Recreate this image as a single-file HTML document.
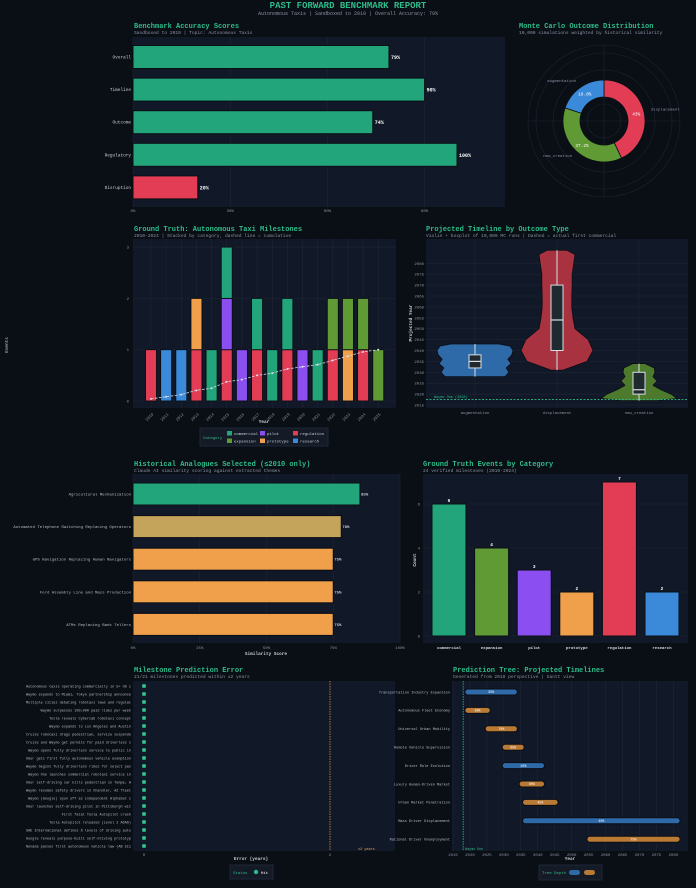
<!DOCTYPE html>
<html><head><meta charset="utf-8"><style>
html,body{margin:0;padding:0;background:#0a0e15;}
svg{display:block;font-family:"Liberation Mono",monospace;}
.t{fill:#2dbd8a;font-weight:bold;font-size:7px;}
.s{fill:#8a93a3;font-size:4.6px;}
.lab{fill:#c9ced6;font-size:4.4px;}
.tk{fill:#8a93a3;font-size:4px;}
.grid{stroke:#1e2636;stroke-width:0.6;}
</style></head><body>
<svg id="root" width="696" height="888" viewBox="0 0 696 888">
<rect x="0" y="0" width="696" height="888" fill="#0a0e15"/>
<text x="348" y="8" text-anchor="middle" class="t" style="font-size:9px">PAST FORWARD BENCHMARK REPORT</text>
<text x="348" y="15" text-anchor="middle" class="s" style="font-size:5px">Autonomous Taxis | Sandboxed to 2010 | Overall Accuracy: 79%</text>

<text x="134" y="28" class="t">Benchmark Accuracy Scores</text>
<text x="134" y="34" class="s">Sandboxed to 2010 | Topic: Autonomous Taxis</text>
<g id="g1"></g>

<text x="519" y="28" class="t">Monte Carlo Outcome Distribution</text>
<text x="519" y="34" class="s">10,000 simulations weighted by historical similarity</text>
<g id="g2"></g>

<text x="134" y="231" class="t">Ground Truth: Autonomous Taxi Milestones</text>
<text x="134" y="237" class="s">2010-2024 | Stacked by category, dashed line = cumulative</text>
<text x="8" y="345" class="lab" transform="rotate(-90 8 345)" text-anchor="middle">Events</text>
<g id="g3"></g>

<text x="426" y="231" class="t">Projected Timeline by Outcome Type</text>
<text x="426" y="237" class="s">Violin + boxplot of 10,000 MC runs | Dashed = actual first commercial</text>
<g id="g4"></g>

<text x="134" y="466" class="t">Historical Analogues Selected (≤2010 only)</text>
<text x="134" y="472" class="s">Claude AI similarity scoring against extracted themes</text>
<g id="g5"></g>

<text x="423" y="466" class="t">Ground Truth Events by Category</text>
<text x="423" y="472" class="s">24 verified milestones (2010-2024)</text>
<g id="g6"></g>

<text x="134" y="672" class="t">Milestone Prediction Error</text>
<text x="134" y="678" class="s">21/21 milestones predicted within ±2 years</text>
<g id="g7"></g>

<text x="453" y="672" class="t">Prediction Tree: Projected Timelines</text>
<text x="453" y="678" class="s">Generated from 2010 perspective | Gantt view</text>
<g id="g8"></g>
</svg>
<script>
const NS='http://www.w3.org/2000/svg';
function mk(tag,a,p){const e=document.createElementNS(NS,tag);for(const k in a)e.setAttribute(k,a[k]);p.appendChild(e);return e;}
function tx(s,a,p){const e=mk('text',a,p);e.textContent=s;return e;}
const C={commercial:'#22a57a',expansion:'#5f9a35',pilot:'#8b4ef0',prototype:'#f0a04b',regulation:'#e23d55',research:'#3b8ad9'};

// ---- 1 accuracy
const accCats=['Overall','Timeline','Outcome','Regulatory','Disruption'];
const accVals=[79,90,74,100,20];
const accTicks=[0,30,60,90];
{const g=document.getElementById('g1');const x0=133,x1=505,y0=37,y1=207,sx=v=>x0+v*3.24;
const bg=mk('rect',{x:x0,y:y0,width:x1-x0,height:y1-y0,fill:'#111827'},g);

accTicks.forEach(t=>{const l=mk('line',{x1:sx(t),x2:sx(t),y1:y0,y2:y1,class:'grid'},g);
const k=tx(t+'%',{x:sx(t),y:y1+5,class:'tk','text-anchor':'middle'},g);});
accCats.forEach((c,i)=>{const cy=57+i*32.6;
const r=mk('rect',{x:x0,y:cy-11.5,width:sx(accVals[i])-x0,height:23,fill:accVals[i]<50?'#e23d55':'#22a57a',stroke:'#0a0e15','stroke-width':1},g);

const l=tx(c,{x:x0-2,y:cy+1.5,class:'lab','text-anchor':'end'},g);
const v=tx(accVals[i]+'%',{x:sx(accVals[i])+2,y:cy+2,class:'lab',style:'font-weight:bold;fill:#fff;font-size:5px'},g);});}

// ---- 2 donut
const donutCats=['displacement','new_creation','augmentation'];
const donutVals=[43,37.2,19.8];
const donutCols=['#e23d55','#5f9a35','#3b8ad9'];
{const g=document.getElementById('g2');const cx=604,cy=121,R=41,r=24;
[17,34,51,68,76].forEach(rr=>{const c=mk('circle',{cx,cy,r:rr,fill:'none',stroke:'#1c2331','stroke-width':0.6},g);});
const hl=mk('line',{x1:cx-76,x2:cx+76,y1:cy,y2:cy,stroke:'#1c2331','stroke-width':0.6},g);
const vl=mk('line',{x1:cx,x2:cx,y1:cy-76,y2:cy+76,stroke:'#1c2331','stroke-width':0.6},g);
const tot=donutVals.reduce((a,b)=>a+b,0);let a0=0;
donutVals.forEach((v,i)=>{const a1=a0+v/tot*2*Math.PI;const P=(rad,a)=>[cx+rad*Math.sin(a),cy-rad*Math.cos(a)];const lg=a1-a0>Math.PI?1:0;
const [p1,p2,p3,p4]=[P(R,a0),P(R,a1),P(r,a1),P(r,a0)];
const p=mk('path',{d:`M${p1}A${R},${R} 0 ${lg} 1 ${p2}L${p3}A${r},${r} 0 ${lg} 0 ${p4}Z`,fill:donutCols[i],stroke:'#0a0e15','stroke-width':0.8},g);

const am=(a0+a1)/2;const q=P(33,am);const pct=tx((i==0?Math.round(v):v.toFixed(1))+'%',{x:q[0],y:q[1]+1.5,class:'lab','text-anchor':'middle',style:'fill:#fff'},g);
const o=P(48,am);const nl=tx(donutCats[i],{x:o[0],y:o[1],class:'tk','text-anchor':Math.sin(am)>0.3?'start':(Math.sin(am)<-0.3?'end':'middle')},g);
a0=a1;});}

// ---- 3 milestones
const years=[2010,2011,2012,2013,2014,2015,2016,2017,2018,2019,2020,2021,2022,2023,2024,2025];
const yearStacks=[['regulation'],['research'],['research'],['regulation','prototype'],['commercial'],['regulation','pilot','commercial'],['pilot'],['regulation','commercial'],['commercial'],['regulation','commercial'],['pilot'],['commercial'],['regulation','expansion'],['prototype','expansion'],['regulation','expansion'],['expansion']];
const evTicks=[0,1,2,3];
{const g=document.getElementById('g3');const x0=133,x1=396,y0=239,y1=408,sy=v=>401-v*51.3,sx=i=>151+i*15.15;
const bg=mk('rect',{x:x0,y:y0,width:x1-x0,height:y1-y0,fill:'#111827'},g);
evTicks.forEach(t=>{const l=mk('line',{x1:x0,x2:x1,y1:sy(t),y2:sy(t),class:'grid'},g);
const k=tx(t,{x:x0-4,y:sy(t)+1.5,class:'tk','text-anchor':'end'},g);});
const total=yearStacks.reduce((a,s)=>a+s.length,0);let cum=0;const pts=[];
years.forEach((yr,i)=>{const vl=mk('line',{x1:sx(i),x2:sx(i),y1:y0,y2:y1,class:'grid'},g);
yearStacks[i].forEach((c,j)=>{const r=mk('rect',{x:sx(i)-5.5,y:sy(j+1),width:11,height:51.3,fill:C[c],stroke:'#0a0e15','stroke-width':0.9},g);});
cum+=yearStacks[i].length;pts.push([sx(i),sy(cum/total)]);
const k=tx(yr,{x:sx(i),y:414,class:'tk','text-anchor':'end',transform:`rotate(-45 ${sx(i)+2} 411)`},g);});
const pl=mk('polyline',{points:pts.join(' '),fill:'none',stroke:'#d8dde6','stroke-width':0.8,'stroke-dasharray':'2.5,1.5'},g);
pts.forEach(p=>{const c=mk('circle',{cx:p[0],cy:p[1],r:1,fill:'#d8dde6'},g);});
const xt=tx('Year',{x:264,y:423,class:'lab','text-anchor':'middle',style:'font-weight:bold'},g);
const lb=mk('rect',{x:200,y:428,width:128,height:18,fill:'#141b27',stroke:'#1e2636'},g);
const lt=tx('Category',{x:203,y:439,class:'tk',style:'fill:#2dbd8a'},g);
const order=['commercial','pilot','regulation','expansion','prototype','research'];
order.forEach((c,i)=>{const lx=227+(i%3)*33,ly=431+Math.floor(i/3)*7.5;const s=mk('rect',{x:lx,y:ly,width:5,height:4.5,fill:C[c]},g);
const t=tx(c,{x:lx+7,y:ly+4,class:'tk',style:'fill:#c9ced6'},g);});}

// ---- 4 violin
const vCats=['augmentation','displacement','new_creation'];
const vCols=['#2f6aa8','#a8323f','#4d7a2c'];
const vYears=[[2028,2030,2032,2034,2036,2038,2040,2042,2043],[2031,2035,2040,2045,2050,2055,2060,2065,2070,2075,2080,2084,2086],[2017,2018,2020,2022,2024,2026,2028,2030,2032,2034]];
const vDens=[[0.75,0.85,0.78,0.9,0.82,0.92,0.95,0.88,0.6],[0.15,0.75,0.9,0.78,0.45,0.4,0.37,0.37,0.38,0.38,0.42,0.45,0.25],[0.45,0.95,0.8,0.55,0.35,0.45,0.35,0.4,0.38,0.15]];
const vBox=[[2032,2035,2038],[2040,2054,2070],[2020,2022,2030]];
const vWhisk=[[2028,2043],[2031,2086],[2017,2034]];
const vTicks=[2015,2020,2025,2030,2035,2040,2045,2050,2055,2060,2065,2070,2075,2080];
const actualFirst=2017.5;
{const g=document.getElementById('g4');const x0=426,x1=688,y0=239,y1=408,sy=v=>405-(v-2015)*2.18,cx=[475,557,639],W=40;
const bg=mk('rect',{x:x0,y:y0,width:x1-x0,height:y1-y0,fill:'#111827'},g);
vTicks.forEach(t=>{const l=mk('line',{x1:x0,x2:x1,y1:sy(t),y2:sy(t),class:'grid'},g);
const k=tx(t,{x:x0-2,y:sy(t)+1.5,class:'tk','text-anchor':'end'},g);});
cx.forEach(x=>{const l=mk('line',{x1:x,x2:x,y1:y0,y2:y1,class:'grid'},g);});
vCats.forEach((c,i)=>{const Y=vYears[i],D=vDens[i];let d='M'+cx[i]+','+sy(Y[0]);
Y.forEach((y,j)=>{d+='L'+(cx[i]+D[j]*W)+','+sy(y);});d+='L'+cx[i]+','+sy(Y[Y.length-1]);
for(let j=Y.length-1;j>=0;j--)d+='L'+(cx[i]-D[j]*W)+','+sy(Y[j]);d+='Z';
const p=mk('path',{d,fill:vCols[i],stroke:'#0a0e15','stroke-width':0.8,'stroke-linejoin':'round'},g);
const w=mk('line',{x1:cx[i],x2:cx[i],y1:sy(vWhisk[i][0]),y2:sy(vWhisk[i][1]),stroke:'#d8dde6','stroke-width':1},g);
const b=mk('rect',{x:cx[i]-6,y:sy(vBox[i][2]),width:12,height:sy(vBox[i][0])-sy(vBox[i][2]),fill:'#1e2a2e',stroke:'#d8dde6','stroke-width':1},g);
const m=mk('line',{x1:cx[i]-6,x2:cx[i]+6,y1:sy(vBox[i][1]),y2:sy(vBox[i][1]),stroke:'#d8dde6','stroke-width':1.2},g);
const k=tx(c,{x:cx[i],y:414,class:'tk','text-anchor':'middle'},g);});
const al=mk('line',{x1:x0,x2:x1,y1:sy(actualFirst),y2:sy(actualFirst),stroke:'#2dbd8a','stroke-width':0.8,'stroke-dasharray':'2,1.5'},g);
const at=tx('Waymo One (2018)',{x:434,y:sy(actualFirst)-1.5,class:'tk',style:'fill:#2dbd8a;font-size:3.5px'},g);
const yt=tx('Projected Year',{x:412,y:323,class:'lab','text-anchor':'middle',transform:'rotate(-90 412 323)',style:'font-weight:bold'},g);}

// ---- 5 analogues
const anNames=['Agricultural Mechanization','Automated Telephone Switching Replacing Operators','GPS Navigation Replacing Human Navigators','Ford Assembly Line and Mass Production','ATMs Replacing Bank Tellers'];
const anVals=[85,78,75,75,75];
const anTicks=[0,25,50,75,100];
{const g=document.getElementById('g5');const x0=133,x1=400,y0=474,y1=643,sx=v=>x0+v*2.67;
const bg=mk('rect',{x:x0,y:y0,width:x1-x0,height:y1-y0,fill:'#111827'},g);
anTicks.forEach(t=>{const l=mk('line',{x1:sx(t),x2:sx(t),y1:y0,y2:y1,class:'grid'},g);
const k=tx(t+'%',{x:sx(t),y:y1+6,class:'tk','text-anchor':'middle'},g);});
anNames.forEach((n,i)=>{const cy=494+i*32.6;const col=anVals[i]>=80?'#22a57a':(anVals[i]>=77?'#c4a35a':'#f0a04b');
const r=mk('rect',{x:x0,y:cy-11,width:sx(anVals[i])-x0,height:22,fill:col,stroke:'#0a0e15','stroke-width':1},g);
const l=tx(n,{x:x0-2,y:cy+1.5,class:'tk','text-anchor':'end',style:'fill:#b5bcc7'},g);
const v=tx(anVals[i]+'%',{x:sx(anVals[i])+1,y:cy+1.5,class:'tk',style:'fill:#fff'},g);});
const xt=tx('Similarity Score',{x:266,y:655,class:'lab','text-anchor':'middle',style:'font-weight:bold'},g);}

// ---- 6 category
const catNames=['commercial','expansion','pilot','prototype','regulation','research'];
const catCounts=[6,4,3,2,7,2];
const catTicks=[0,2,4,6];
{const g=document.getElementById('g6');const x0=423,x1=688,y0=474,y1=643,sy=v=>636-v*22,sx=i=>449+i*42.6;
const bg=mk('rect',{x:x0,y:y0,width:x1-x0,height:y1-y0,fill:'#111827'},g);
catTicks.forEach(t=>{const l=mk('line',{x1:x0,x2:x1,y1:sy(t),y2:sy(t),class:'grid'},g);
const k=tx(t,{x:x0-3,y:sy(t)+1.5,class:'tk','text-anchor':'end'},g);});
catNames.forEach((c,i)=>{const r=mk('rect',{x:sx(i)-17,y:sy(catCounts[i]),width:34,height:sy(0)-sy(catCounts[i]),fill:C[c],stroke:'#0a0e15','stroke-width':1},g);
const v=tx(catCounts[i],{x:sx(i),y:sy(catCounts[i])-2,class:'lab','text-anchor':'middle',style:'fill:#fff;font-weight:bold'},g);
const k=tx(c,{x:sx(i),y:y1+6,class:'tk','text-anchor':'middle',style:'fill:#d8dde6;font-weight:bold'},g);});
const yt=tx('Count',{x:416,y:560,class:'lab','text-anchor':'middle',transform:'rotate(-90 416 560)',style:'font-weight:bold'},g);}

// ---- 7 error
const errLabels=['Autonomous taxis operating commercially in 5+ US c','Waymo expands to Miami, Tokyo partnership announce','Multiple cities debating robotaxi laws and regulat','Waymo surpasses 100,000 paid rides per week','Tesla reveals Cybercab robotaxi concept','Waymo expands to Los Angeles and Austin','Cruise robotaxi drags pedestrian, service suspende','Cruise and Waymo get permits for paid driverless s','Waymo opens fully driverless service to public in','Uber gets first fully autonomous vehicle exemption','Waymo begins fully driverless rides for select pas','Waymo One launches commercial robotaxi service in','Uber self-driving car kills pedestrian in Tempe, A','Waymo resumes safety drivers in Chandler, AZ fleet','Waymo (Google) spun off as independent Alphabet c','Uber launches self-driving pilot in Pittsburgh wit','First fatal Tesla Autopilot crash','Tesla Autopilot released (Level 2 ADAS)','SAE International defines 6 levels of driving auto','Google reveals purpose-built self-driving prototyp','Nevada passes first autonomous vehicle law (AB 511'];
const errVals=[0,0,0,0,0,0,0,0,0,0,0,0,0,0,0,0,0,0,0,0,0];
const errTicks=[0,2];
const errThreshold=2;
{const g=document.getElementById('g7');const x0=133,x1=395,y0=681,y1=851,sx=v=>144+v*93;
const bg=mk('rect',{x:x0,y:y0,width:x1-x0,height:y1-y0,fill:'#111827'},g);
errTicks.forEach(t=>{const k=tx(t,{x:sx(t),y:y1+5,class:'tk','text-anchor':'middle'},g);});
const th=mk('line',{x1:sx(errThreshold),x2:sx(errThreshold),y1:y0,y2:y1,stroke:'#f0a04b','stroke-width':0.7,'stroke-dasharray':'1.5,1'},g);
const tl=tx('±2 years',{x:358,y:850,class:'tk',style:'fill:#f0a04b;font-size:3.5px'},g);
errLabels.forEach((n,i)=>{const cy=686+i*8;const d=mk('circle',{cx:sx(errVals[i]),cy,r:2,fill:'#2dbd8a'},g);
const l=tx(n,{x:131,y:cy+1.3,class:'tk','text-anchor':'end',style:'font-size:3.5px;fill:#b5bcc7'},g);});
const xt=tx('Error (years)',{x:251,y:860,class:'lab','text-anchor':'middle',style:'font-weight:bold'},g);
const lb=mk('rect',{x:230,y:865,width:43,height:14,fill:'#141b27',stroke:'#1e2636'},g);
const t1=tx('Status',{x:233,y:874,class:'tk',style:'fill:#2dbd8a'},g);
const ld=mk('circle',{cx:256,cy:872,r:2.2,fill:'#2dbd8a'},g);
const t2=tx('Hit',{x:261,y:874,class:'tk',style:'fill:#fff'},g);}

// ---- 8 gantt
const ganttNames=['Transportation Industry Expansion','Autonomous Fleet Economy','Universal Urban Mobility','Remote Vehicle Supervision','Driver Role Evolution','Luxury Human-Driven Market','Urban Market Penetration','Mass Driver Displacement','Rational Driver Unemployment'];
const ganttStart=[2018.5,2018.5,2024.5,2029.5,2029.5,2034.5,2035.5,2035.5,2054.5];
const ganttEnd=[2034,2026,2034,2036,2042,2042,2046,2082,2082];
const ganttDepth=[1,2,2,2,1,2,2,1,2];
const ganttProb=['35%','80%','70%','65%','20%','60%','45%','40%','75%'];
const ganttTicks=[2015,2020,2025,2030,2035,2040,2045,2050,2055,2060,2065,2070,2075,2080];
const todayYear=2018;
{const g=document.getElementById('g8');const x0=452,x1=688,y0=681,y1=851,sx=v=>453+(v-2015)*3.39;
const bg=mk('rect',{x:x0,y:y0,width:x1-x0,height:y1-y0,fill:'#111827'},g);
ganttTicks.forEach(t=>{const l=mk('line',{x1:sx(t),x2:sx(t),y1:y0,y2:y1,class:'grid'},g);
const k=tx(t,{x:sx(t),y:y1+5,class:'tk','text-anchor':'middle'},g);});
const tdl=mk('line',{x1:sx(todayYear),x2:sx(todayYear),y1:y0,y2:y1,stroke:'#2dbd8a','stroke-width':0.8,'stroke-dasharray':'1.5,1'},g);
const tdt=tx('Waymo One',{x:sx(todayYear)+2,y:y1-1,class:'tk',style:'fill:#2dbd8a;font-size:3.3px'},g);
ganttNames.forEach((n,i)=>{const cy=692+i*18.4;const col=ganttDepth[i]==1?'#2f6aa8':'#b87a35';
const r=mk('rect',{x:sx(ganttStart[i]),y:cy-3,width:sx(ganttEnd[i])-sx(ganttStart[i]),height:6,rx:3,fill:col,stroke:'#0a0e15','stroke-width':1},g);
const p=tx(ganttProb[i],{x:(sx(ganttStart[i])+sx(ganttEnd[i]))/2,y:cy+1.2,class:'tk','text-anchor':'middle',style:'fill:#fff;font-size:3.3px'},g);
const l=tx(n,{x:x0-2,y:cy+1.3,class:'tk','text-anchor':'end',style:'font-size:3.6px;fill:#b5bcc7'},g);});
const xt=tx('Year',{x:570,y:860,class:'lab','text-anchor':'middle',style:'font-weight:bold'},g);
const lb=mk('rect',{x:539,y:865,width:63,height:15,fill:'#141b27',stroke:'#1e2636'},g);
const t1=tx('Tree Depth',{x:542,y:874,class:'tk',style:'fill:#2dbd8a'},g);
const s1=mk('rect',{x:569,y:870,width:11,height:5,rx:2.5,fill:'#2f6aa8'},g);
const s2=mk('rect',{x:584,y:870,width:11,height:5,rx:2.5,fill:'#b87a35'},g);}
</script>
</body></html>
